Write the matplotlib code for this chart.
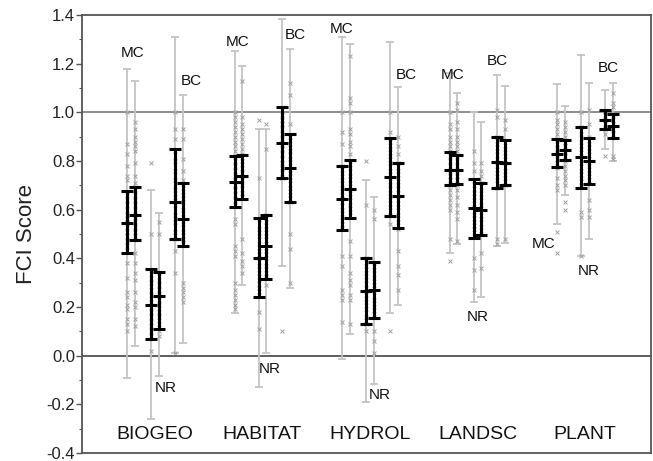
import matplotlib
matplotlib.use('Agg')
import matplotlib.pyplot as plt
from matplotlib.ticker import MultipleLocator, FixedLocator

plt.rcParams['font.family'] = ['Liberation Sans', 'DejaVu Sans']

groups = ['BIOGEO', 'HABITAT', 'HYDROL', 'LANDSC', 'PLANT']
columns = ['MC1', 'MC2', 'NR1', 'NR2', 'BC1', 'BC2']

# per group x 6 columns (MC, MC, NR, NR, BC, BC)
mean = [
    [0.545, 0.58, 0.21, 0.245, 0.63, 0.56],
    [0.715, 0.74, 0.40, 0.45, 0.875, 0.77],
    [0.645, 0.685, 0.265, 0.27, 0.735, 0.655],
    [0.765, 0.765, 0.605, 0.60, 0.795, 0.79],
    [0.83, 0.845, 0.815, 0.80, 0.97, 0.945],
]
black_lo = [
    [0.42, 0.475, 0.07, 0.11, 0.48, 0.45],
    [0.61, 0.645, 0.24, 0.315, 0.73, 0.63],
    [0.515, 0.565, 0.13, 0.155, 0.575, 0.525],
    [0.70, 0.705, 0.485, 0.495, 0.69, 0.70],
    [0.775, 0.805, 0.69, 0.705, 0.93, 0.895],
]
black_hi = [
    [0.675, 0.695, 0.355, 0.345, 0.85, 0.71],
    [0.82, 0.825, 0.565, 0.58, 1.02, 0.91],
    [0.78, 0.805, 0.40, 0.385, 0.895, 0.79],
    [0.835, 0.825, 0.725, 0.71, 0.90, 0.885],
    [0.89, 0.885, 0.94, 0.895, 1.01, 0.995],
]
gray_lo = [
    [-0.09, 0.04, -0.26, -0.085, 0.01, 0.05],
    [0.175, 0.29, -0.13, 0.01, 0.37, 0.28],
    [-0.015, 0.09, -0.19, -0.115, 0.175, 0.21],
    [0.42, 0.46, 0.22, 0.24, 0.45, 0.465],
    [0.54, 0.66, 0.41, 0.48, 0.85, 0.80],
]
gray_hi = [
    [1.18, 1.13, 0.68, 0.585, 1.31, 1.07],
    [1.25, 1.19, 0.93, 0.93, 1.385, 1.26],
    [1.31, 1.28, 0.72, 0.65, 1.29, 1.105],
    [1.16, 1.08, 1.0, 0.96, 1.155, 1.11],
    [1.115, 1.025, 1.235, 1.12, 1.09, 1.12],
]

points = [
    # BIOGEO
    [[1.0, 0.87, 0.83, 0.78, 0.74, 0.72, 0.66, 0.64, 0.62, 0.60, 0.58, 0.56, 0.55, 0.53, 0.51, 0.49, 0.47, 0.45, 0.43, 0.38, 0.32, 0.26, 0.24, 0.21, 0.19, 0.15, 0.13, 0.10],
     [0.96, 0.93, 0.90, 0.88, 0.86, 0.84, 0.79, 0.74, 0.71, 0.68, 0.66, 0.64, 0.62, 0.60, 0.58, 0.57, 0.55, 0.53, 0.51, 0.49, 0.42, 0.38, 0.34, 0.31, 0.26, 0.22, 0.20, 0.15, 0.12],
     [0.79, 0.50, 0.35, 0.32, 0.30, 0.27, 0.25, 0.22, 0.20, 0.18, 0.16, 0.14, 0.12, 0.10, 0.08, 0.02],
     [0.55, 0.50, 0.34, 0.31, 0.29, 0.27, 0.25, 0.23, 0.21, 0.18, 0.16, 0.13, 0.10, 0.08],
     [1.0, 0.93, 0.89, 0.84, 0.80, 0.76, 0.72, 0.68, 0.65, 0.62, 0.58, 0.55, 0.51, 0.48, 0.43, 0.34, 0.01],
     [0.93, 0.89, 0.81, 0.76, 0.72, 0.69, 0.66, 0.63, 0.60, 0.57, 0.54, 0.51, 0.48, 0.46, 0.30, 0.28, 0.26, 0.24, 0.22]],
    # HABITAT
    [[1.0, 0.98, 0.96, 0.94, 0.92, 0.90, 0.88, 0.86, 0.84, 0.82, 0.80, 0.78, 0.76, 0.74, 0.72, 0.70, 0.68, 0.66, 0.64, 0.62, 0.56, 0.54, 0.45, 0.43, 0.41, 0.30, 0.27, 0.25, 0.23, 0.21, 0.19],
     [1.13, 0.98, 0.95, 0.93, 0.91, 0.89, 0.87, 0.85, 0.83, 0.80, 0.77, 0.75, 0.72, 0.70, 0.67, 0.65, 0.48, 0.42, 0.39, 0.37, 0.34],
     [0.97, 0.73, 0.56, 0.52, 0.49, 0.46, 0.43, 0.40, 0.37, 0.34, 0.31, 0.28, 0.25, 0.18, 0.11],
     [0.95, 0.85, 0.58, 0.55, 0.52, 0.49, 0.46, 0.43, 0.40, 0.37, 0.34, 0.32, 0.29],
     [1.01, 0.99, 0.97, 0.95, 0.93, 0.91, 0.89, 0.87, 0.85, 0.83, 0.81, 0.79, 0.77, 0.75, 0.73, 0.10],
     [1.12, 1.07, 0.95, 0.90, 0.87, 0.84, 0.81, 0.78, 0.75, 0.72, 0.69, 0.66, 0.63, 0.50, 0.44, 0.30]],
    # HYDROL
    [[1.0, 0.92, 0.87, 0.78, 0.75, 0.72, 0.69, 0.66, 0.63, 0.60, 0.57, 0.54, 0.52, 0.41, 0.37, 0.27, 0.25, 0.23, 0.14],
     [1.23, 1.06, 1.04, 1.0, 0.93, 0.91, 0.88, 0.86, 0.83, 0.80, 0.77, 0.74, 0.71, 0.68, 0.65, 0.62, 0.59, 0.47, 0.41, 0.34, 0.31, 0.29, 0.25, 0.23, 0.13],
     [0.80, 0.62, 0.40, 0.37, 0.34, 0.31, 0.28, 0.25, 0.22, 0.19, 0.16, 0.13, 0.10],
     [0.60, 0.56, 0.38, 0.35, 0.32, 0.29, 0.26, 0.23, 0.20, 0.17, 0.10, 0.06, 0.01],
     [1.0, 0.92, 0.88, 0.85, 0.82, 0.79, 0.76, 0.73, 0.70, 0.67, 0.64, 0.61, 0.58, 0.54, 0.10],
     [0.90, 0.86, 0.83, 0.79, 0.76, 0.73, 0.70, 0.67, 0.64, 0.61, 0.58, 0.55, 0.52, 0.43, 0.37, 0.33, 0.27]],
    # LANDSC
    [[1.0, 0.95, 0.93, 0.90, 0.88, 0.86, 0.84, 0.82, 0.80, 0.78, 0.76, 0.74, 0.72, 0.70, 0.68, 0.66, 0.64, 0.62, 0.60, 0.48, 0.39],
     [1.04, 1.01, 0.96, 0.93, 0.90, 0.88, 0.86, 0.84, 0.82, 0.80, 0.78, 0.76, 0.74, 0.72, 0.70, 0.68, 0.65, 0.62, 0.59, 0.56, 0.47],
     [0.84, 0.79, 0.76, 0.72, 0.70, 0.67, 0.64, 0.61, 0.58, 0.55, 0.52, 0.49, 0.40, 0.35, 0.27],
     [0.79, 0.76, 0.74, 0.71, 0.68, 0.65, 0.62, 0.59, 0.56, 0.53, 0.50, 0.42, 0.36],
     [1.01, 0.98, 0.90, 0.87, 0.84, 0.81, 0.78, 0.75, 0.72, 0.69, 0.48, 0.46],
     [0.97, 0.93, 0.88, 0.85, 0.82, 0.79, 0.76, 0.73, 0.70, 0.48]],
    # PLANT
    [[1.0, 0.97, 0.95, 0.93, 0.91, 0.89, 0.87, 0.85, 0.83, 0.81, 0.79, 0.77, 0.73, 0.70, 0.68, 0.51, 0.42],
     [0.96, 0.94, 0.92, 0.90, 0.88, 0.86, 0.84, 0.82, 0.80, 0.78, 0.76, 0.74, 0.72, 0.70, 0.63, 0.60],
     [1.0, 0.94, 0.91, 0.88, 0.85, 0.82, 0.79, 0.76, 0.73, 0.70, 0.59, 0.57, 0.41],
     [1.01, 0.95, 0.90, 0.87, 0.84, 0.81, 0.78, 0.75, 0.72, 0.64, 0.60, 0.57],
     [1.0, 0.99, 0.97, 0.95, 0.93, 0.91, 0.82],
     [1.08, 1.04, 1.02, 0.99, 0.97, 0.95, 0.93, 0.91, 0.82, 0.81]],
]

# class labels: (text, x offset from group centre, y value)
class_labels = [
    [('MC', -0.205, 1.244), ('NR', 0.098, -0.134), ('BC', 0.335, 1.129)],
    [('MC', -0.228, 1.29), ('NR', 0.065, -0.055), ('BC', 0.302, 1.318)],
    [('MC', -0.26, 1.341), ('NR', 0.093, -0.162), ('BC', 0.335, 1.153)],
    [('MC', -0.228, 1.153), ('NR', 0.005, 0.16), ('BC', 0.181, 1.211)],
    [('MC', -0.381, 0.457), ('NR', 0.033, 0.349), ('BC', 0.214, 1.183)],
]

offsets = [-0.26, -0.186, -0.037, 0.037, 0.186, 0.26]

fig = plt.figure(figsize=(6.53, 4.61), dpi=100)
ax = fig.add_axes([82 / 653, 8 / 461, 569 / 653, 438 / 461])

ax.axhline(1.0, color='#707070', lw=1.1, zorder=1)
ax.axhline(0.0, color='#505050', lw=1.3, zorder=1)

for gi, g in enumerate(groups):
    for ci in range(6):
        x = gi + offsets[ci]
        m = mean[gi][ci]
        ax.errorbar([x], [m], yerr=[[m - gray_lo[gi][ci]], [gray_hi[gi][ci] - m]],
                    fmt='none', ecolor='#c4c4c4', elinewidth=1.3, capsize=3.2,
                    capthick=1.3, zorder=2)
        pts = points[gi][ci]
        ax.scatter([x] * len(pts), pts, marker='x', s=8, color='#a0a0a0',
                   linewidths=0.7, zorder=3)
        ax.errorbar([x], [m], yerr=[[m - black_lo[gi][ci]], [black_hi[gi][ci] - m]],
                    fmt='none', ecolor='black', elinewidth=2.2, capsize=4.5,
                    capthick=2.2, zorder=4)
        ax.scatter([x], [m], marker='_', s=75, color='black', linewidths=2.2, zorder=5)
    for txt, dx, yv in class_labels[gi]:
        ax.text(gi + dx, yv, txt, ha='center', va='center', fontsize=11, color='#111111')
    ax.text(gi, -0.326, g, ha='center', va='center', fontsize=14, color='#111111')

ax.set_xlim(-0.679, 4.614)
ax.set_ylim(-0.4, 1.4)
ax.set_xticks([])
ax.yaxis.set_major_locator(FixedLocator([-0.4, -0.2, 0.0, 0.2, 0.4, 0.6, 0.8, 1.0, 1.2, 1.4]))
ax.set_yticklabels(['-0.4', '-0.2', '0.0', '0.2', '0.4', '0.6', '0.8', '1.0', '1.2', '1.4'])
ax.yaxis.set_minor_locator(MultipleLocator(0.1))
ax.tick_params(axis='y', which='major', length=4, width=1, color='#555555',
               labelsize=12, labelcolor='#222222', pad=1)
ax.tick_params(axis='y', which='minor', length=2.5, width=0.8, color='#555555')
for s in ax.spines.values():
    s.set_color('#555555')
    s.set_linewidth(1.3)
ax.set_ylabel('FCI Score', fontsize=16, color='#222222', labelpad=7)

fig.savefig('out.png', dpi=100)
